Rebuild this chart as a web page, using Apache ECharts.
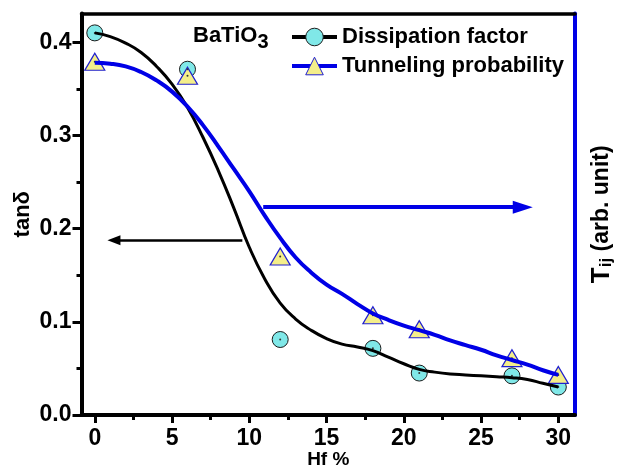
<!DOCTYPE html>
<html>
<head>
<meta charset="utf-8">
<script src="https://cdn.jsdelivr.net/npm/echarts@6/dist/echarts.min.js"></script>
<style>
  html, body { margin: 0; padding: 0; background: #fff; }
  #chart { width: 618px; height: 468px; }
</style>
</head>
<body>
<div id="chart"></div>
<script>
// measured points
const hfPercent = [0, 6, 12, 18, 21, 27, 30]
const dissipation = [0.410, 0.371, 0.081, 0.0715, 0.045, 0.042, 0.030]
const tunneling = [0.379, 0.364, 0.170, 0.107, 0.092, 0.061, 0.043]

// fitted curves at each integer Hf %
const fitX = [0, 1, 2, 3, 4, 5, 6, 7, 8, 9, 10, 11, 12, 13, 14, 15, 16, 17, 18, 19, 20, 21, 22, 23, 24, 25, 26, 27, 28, 29, 30]
const dissipationFit = [0.410, 0.406, 0.399, 0.389, 0.374, 0.355, 0.330, 0.298, 0.262, 0.222, 0.180, 0.146, 0.120, 0.103, 0.091, 0.082,
  0.076, 0.073, 0.069, 0.062, 0.055, 0.049, 0.046, 0.044, 0.043, 0.042, 0.041, 0.040, 0.038, 0.034, 0.030]
const tunnelingFit = [0.378, 0.377, 0.374, 0.368, 0.359, 0.347, 0.331, 0.311, 0.288, 0.264, 0.240, 0.214, 0.190, 0.169, 0.153, 0.140,
  0.130, 0.119, 0.109, 0.102, 0.096, 0.091, 0.086, 0.080, 0.075, 0.070, 0.064, 0.059, 0.054, 0.048, 0.043]

// ticks
const xTicks = [0, 5, 10, 15, 20, 25, 30]
const xMinorTicks = [2.5, 7.5, 12.5, 17.5, 22.5, 27.5]
const yTicks = [0, 0.1, 0.2, 0.3, 0.4]
const yMinorTicks = [0.05, 0.15, 0.25, 0.35]

// arrows pointing to the axes (tail, head)
const leftArrow = [[9.55, 0.1876], [1.24, 0.1876]]
const rightArrow = [[10.9, 0.223], [27.7, 0.223]]

const font = "'Liberation Sans', Arial, sans-serif"
const xMin = -0.86
const xMax = 31.08
const yMin = 0
const yMax = 0.4308

const pairs = (xs, ys) => xs.map((x, i) => [x, ys[i]])

const chart = echarts.init(document.getElementById('chart'))

const option = {
  animation: false,
  title: {
    text: '{a|BaTiO}{s|3}',
    left: 193,
    top: 20,
    padding: 0,
    textStyle: {
      rich: {
        a: { fontSize: 22, fontWeight: 'bold', fontFamily: font, color: '#000' },
        s: { fontSize: 20, fontWeight: 'bold', fontFamily: font, color: '#000', padding: [12, 0, 0, 0] }
      }
    }
  },
  legend: {
    data: ['Dissipation factor', 'Tunneling probability'],
    orient: 'vertical',
    left: 290,
    top: 26,
    padding: 0,
    itemWidth: 45,
    itemHeight: 22,
    itemGap: 7,
    selectedMode: false,
    lineStyle: { width: 4 },
    itemStyle: { borderWidth: 1 },
    textStyle: { fontSize: 22, fontWeight: 'bold', color: '#000', fontFamily: font }
  },
  grid: { left: 81.5, right: 43, top: 13.5, bottom: 53, outerBoundsMode: 'none' },
  xAxis: [
    {
      type: 'value',
      min: xMin,
      max: xMax,
      position: 'bottom',
      name: 'Hf %',
      nameLocation: 'middle',
      nameGap: 35,
      nameMoveOverlap: false,
      nameTextStyle: { fontSize: 19, fontWeight: 'bold', color: '#000', fontFamily: font },
      axisLine: { onZero: false, lineStyle: { color: '#000', width: 4 } },
      axisTick: { customValues: xTicks, length: 8, lineStyle: { color: '#000', width: 3 } },
      axisLabel: { show: true, customValues: xTicks, margin: 12, fontSize: 23, fontWeight: 'bold', color: '#000', fontFamily: font },
      splitLine: { show: false }
    },
    {
      type: 'value',
      min: xMin,
      max: xMax,
      position: 'bottom',
      axisLine: { show: false, onZero: false },
      axisTick: { customValues: xMinorTicks, length: 5, lineStyle: { color: '#000', width: 3 } },
      axisLabel: { show: false },
      splitLine: { show: false }
    },
    {
      type: 'value',
      min: xMin,
      max: xMax,
      position: 'top',
      axisLine: { onZero: false, lineStyle: { color: '#000', width: 3.5 } },
      axisTick: { show: false },
      axisLabel: { show: false },
      splitLine: { show: false }
    }
  ],
  yAxis: [
    {
      type: 'value',
      min: yMin,
      max: yMax,
      position: 'left',
      name: 'tanδ',
      nameLocation: 'middle',
      nameGap: 48,
      nameRotate: 90,
      nameMoveOverlap: false,
      nameTextStyle: { fontSize: 22, fontWeight: 'bold', color: '#000', fontFamily: font },
      axisLine: { onZero: false, lineStyle: { color: '#000', width: 4 } },
      axisTick: { customValues: yTicks, length: 9, lineStyle: { color: '#000', width: 3 } },
      axisLabel: {
        show: true,
        customValues: yTicks,
        margin: 10,
        formatter: v => v.toFixed(1),
        fontSize: 23,
        fontWeight: 'bold',
        color: '#000',
        fontFamily: font
      },
      splitLine: { show: false }
    },
    {
      type: 'value',
      min: yMin,
      max: yMax,
      position: 'left',
      axisLine: { show: false, onZero: false },
      axisTick: { customValues: yMinorTicks, length: 5, lineStyle: { color: '#000', width: 3 } },
      axisLabel: { show: false },
      splitLine: { show: false }
    },
    {
      type: 'value',
      min: yMin,
      max: yMax,
      position: 'right',
      name: '{t|T}{s|ij}{u| (arb. unit)}',
      nameLocation: 'middle',
      nameGap: 13,
      nameRotate: 90,
      nameMoveOverlap: false,
      nameTextStyle: {
        rich: {
          t: { fontSize: 26, fontWeight: 'bold', color: '#000', fontFamily: font },
          s: { fontSize: 17, fontWeight: 'bold', color: '#000', fontFamily: font, padding: [10, 0, 0, 0] },
          u: { fontSize: 23, fontWeight: 'bold', color: '#000', fontFamily: font }
        }
      },
      axisLine: { onZero: false, lineStyle: { color: '#0000e6', width: 4 } },
      axisTick: { show: false },
      axisLabel: { show: false },
      splitLine: { show: false }
    }
  ],
  series: [
    {
      name: 'Dissipation factor',
      type: 'line',
      data: pairs(fitX, dissipationFit),
      smooth: 0.5,
      showSymbol: false,
      symbol: 'circle',
      itemStyle: { color: '#80e8e8', borderColor: '#1a1a1a', borderWidth: 1 },
      lineStyle: { color: '#000', width: 3 },
      markLine: {
        silent: true,
        symbol: ['none', 'triangle'],
        symbolSize: [10, 13],
        label: { show: false },
        lineStyle: { color: '#000', width: 2.5, type: 'solid' },
        data: [[{ coord: leftArrow[0] }, { coord: leftArrow[1] }]]
      }
    },
    {
      name: 'Tunneling probability',
      type: 'line',
      yAxisIndex: 2,
      data: pairs(fitX, tunnelingFit),
      smooth: 0.5,
      showSymbol: false,
      symbol: 'triangle',
      itemStyle: { color: '#f4ee8a', borderColor: '#2020d0', borderWidth: 1 },
      lineStyle: { color: '#0000e6', width: 4 },
      markLine: {
        silent: true,
        symbol: ['none', 'triangle'],
        symbolSize: [13, 20],
        label: { show: false },
        lineStyle: { color: '#0000e6', width: 4, type: 'solid' },
        data: [[{ coord: rightArrow[0] }, { coord: rightArrow[1] }]]
      }
    },
    {
      name: 'Dissipation data',
      type: 'scatter',
      data: pairs(hfPercent, dissipation),
      symbol: 'circle',
      symbolSize: 16,
      itemStyle: { color: '#80e8e8', borderColor: '#1a1a1a', borderWidth: 1, opacity: 1 }
    },
    {
      name: 'Tunneling data',
      type: 'scatter',
      yAxisIndex: 2,
      data: pairs(hfPercent, tunneling),
      symbol: 'triangle',
      symbolSize: [20, 17],
      itemStyle: { color: '#f4ee8a', borderColor: '#2020d0', borderWidth: 1.2, opacity: 1 }
    },
    {
      name: 'Dissipation dot',
      type: 'scatter',
      data: pairs(hfPercent, dissipation),
      symbolSize: 2,
      itemStyle: { color: '#333', opacity: 1 }
    },
    {
      name: 'Tunneling dot',
      type: 'scatter',
      yAxisIndex: 2,
      data: pairs(hfPercent, tunneling),
      symbolSize: 2,
      itemStyle: { color: '#333', opacity: 1 }
    }
  ]
}

chart.setOption(option)
</script>
</body>
</html>
